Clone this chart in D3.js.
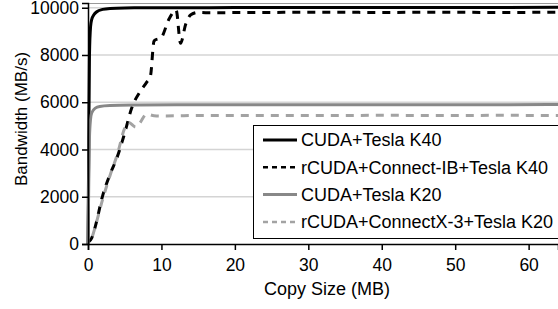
<!doctype html>
<html>
<head>
    <meta charset="UTF-8">
    <title>Bandwidth vs Copy Size</title>
    <script src="https://d3js.org/d3.v7.min.js"></script>
    <style>
        body { margin: 0; background: #fff; }
        text { font-family: "Liberation Sans", Arial, sans-serif; fill: #000; }
    </style>
</head>
<body>
<script>
    // data: copy size (MB) and bandwidth (MB/s)
    var cudaK40Size = [0, 0.1, 0.2, 0.35, 0.5, 0.8, 1.2, 2, 3, 5, 10, 20, 32, 48, 64];
    var cudaK40Bw   = [0, 4000, 8000, 9200, 9500, 9700, 9830, 9930, 9970, 9990, 10000, 10005, 10010, 10010, 10015];

    var rcudaIBSize = [0.06, 0.5, 1, 2, 3, 4, 5, 6, 7, 8, 8.5, 9, 10, 11, 12, 12.6, 13.3, 14, 15, 16, 24, 32, 40, 48, 56, 64];
    var rcudaIBBw   = [80, 250, 750, 2050, 2950, 3700, 4700, 5800, 6400, 6850, 7100, 8600, 8750, 9500, 9900, 8500, 9300, 9700, 9800, 9790, 9800, 9810, 9800, 9810, 9800, 9810];

    var cudaK20Size = [0, 0.1, 0.2, 0.35, 0.5, 1, 1.6, 3, 6, 12, 24, 40, 64];
    var cudaK20Bw   = [0, 2500, 4500, 5300, 5550, 5750, 5820, 5860, 5880, 5890, 5890, 5895, 5900];

    var rcudaX3Size = [0.06, 0.5, 1, 2, 3, 4, 5, 5.5, 6.5, 7, 8, 9, 10, 16, 24, 32, 40, 48, 56, 64];
    var rcudaX3Bw   = [80, 250, 750, 1900, 2900, 3800, 4900, 5150, 4950, 5100, 5500, 5430, 5420, 5440, 5440, 5440, 5445, 5440, 5445, 5440];

    var seriesNames = ["CUDA+Tesla K40", "rCUDA+Connect-IB+Tesla K40", "CUDA+Tesla K20", "rCUDA+ConnectX-3+Tesla K20"];
    var xTicks = [0, 10, 20, 30, 40, 50, 60];
    var yTicks = [0, 2000, 4000, 6000, 8000, 10000];

    var w = 558;
    var h = 309;
    var padLeft = 88, padTop = 3, axisY = 244;

    // styles per series (same order as the names)
    var colors = ["#000", "#000", "#888", "#a3a3a3"];
    var dashes = [null, "8,7", null, "8,7"];
    var dashOffset = [0, 0, 0, 7.5]; // gray dashes fall between the black ones

    var series = [
        zip(cudaK40Size, cudaK40Bw),
        zip(rcudaIBSize, rcudaIBBw),
        zip(cudaK20Size, cudaK20Bw),
        zip(rcudaX3Size, rcudaX3Bw)
    ];

    function zip(xs, ys) {
        return xs.map(function(d, i) { return [d, ys[i]]; });
    }

    var x = d3.scaleLinear().domain([0, 64]).range([padLeft, w]);
    var y = d3.scaleLinear().domain([0, 10200]).range([axisY, padTop]);

    var svg = d3.select("body").append("svg")
        .attr("width", w)
        .attr("height", h);

    // grid lines
    svg.append("g").selectAll("line")
        .data(yTicks.filter(function(d) { return d > 0; }))
        .enter().append("line")
        .attr("x1", padLeft).attr("x2", w)
        .attr("y1", function(d) { return y(d); })
        .attr("y2", function(d) { return y(d); })
        .attr("stroke", "#d4d4d4")
        .attr("stroke-width", 1.5);

    // top border of the plot area
    svg.append("line")
        .attr("x1", padLeft).attr("x2", w)
        .attr("y1", padTop + 0.5).attr("y2", padTop + 0.5)
        .attr("stroke", "#999")
        .attr("stroke-width", 1);

    // lines
    var line = d3.line()
        .x(function(d) { return x(d[0]); })
        .y(function(d) { return y(d[1]); })
        .curve(d3.curveMonotoneX);

    svg.append("g").selectAll("path")
        .data(series)
        .enter().append("path")
        .attr("d", line)
        .attr("fill", "none")
        .attr("stroke", function(d, i) { return colors[i]; })
        .attr("stroke-width", 3)
        .attr("stroke-dasharray", function(d, i) { return dashes[i]; })
        .attr("stroke-dashoffset", function(d, i) { return dashOffset[i]; });

    // axes
    var xAxis = svg.append("g")
        .attr("transform", "translate(0," + axisY + ")")
        .call(d3.axisBottom(x).tickValues(xTicks).tickFormat(d3.format("d"))
            .tickSizeOuter(0).tickSize(6).tickPadding(9));
    var yAxis = svg.append("g")
        .attr("transform", "translate(" + padLeft + ",0)")
        .call(d3.axisLeft(y).tickValues(yTicks).tickFormat(d3.format("d"))
            .tickSizeOuter(0).tickSize(6).tickPadding(3));

    [xAxis, yAxis].forEach(function(a) {
        a.select(".domain").attr("stroke", "#000").attr("stroke-width", 1.5);
        a.selectAll(".tick line").attr("stroke", "#000").attr("stroke-width", 1.5);
        a.selectAll(".tick text").attr("font-size", 17.5);
    });

    // axis titles
    svg.append("text")
        .attr("x", 327).attr("y", 295)
        .attr("text-anchor", "middle")
        .attr("font-size", 18)
        .text("Copy Size (MB)");

    svg.append("text")
        .attr("transform", "translate(27,119) rotate(-90)")
        .attr("text-anchor", "middle")
        .attr("font-size", 17)
        .text("Bandwidth (MB/s)");

    // legend
    var lg = svg.append("g").attr("transform", "translate(253,125)");
    lg.append("rect")
        .attr("x", 0.5).attr("y", 0.5)
        .attr("width", 320).attr("height", 113)
        .attr("fill", "#fff")
        .attr("stroke", "#000")
        .attr("stroke-width", 1);

    var items = lg.selectAll("g.item")
        .data(seriesNames)
        .enter().append("g")
        .attr("transform", function(d, i) { return "translate(0," + (15 + 27.3 * i) + ")"; });

    items.append("line")
        .attr("x1", 10).attr("x2", 44)
        .attr("stroke", function(d, i) { return colors[i]; })
        .attr("stroke-width", function(d, i) { return i % 2 ? 2.5 : 3; })
        .attr("stroke-dasharray", function(d, i) { return dashes[i] ? "5,4" : null; });

    items.append("text")
        .attr("x", 48).attr("dy", "0.35em")
        .attr("font-size", 18)
        .text(function(d) { return d; });
</script>
</body>
</html>
